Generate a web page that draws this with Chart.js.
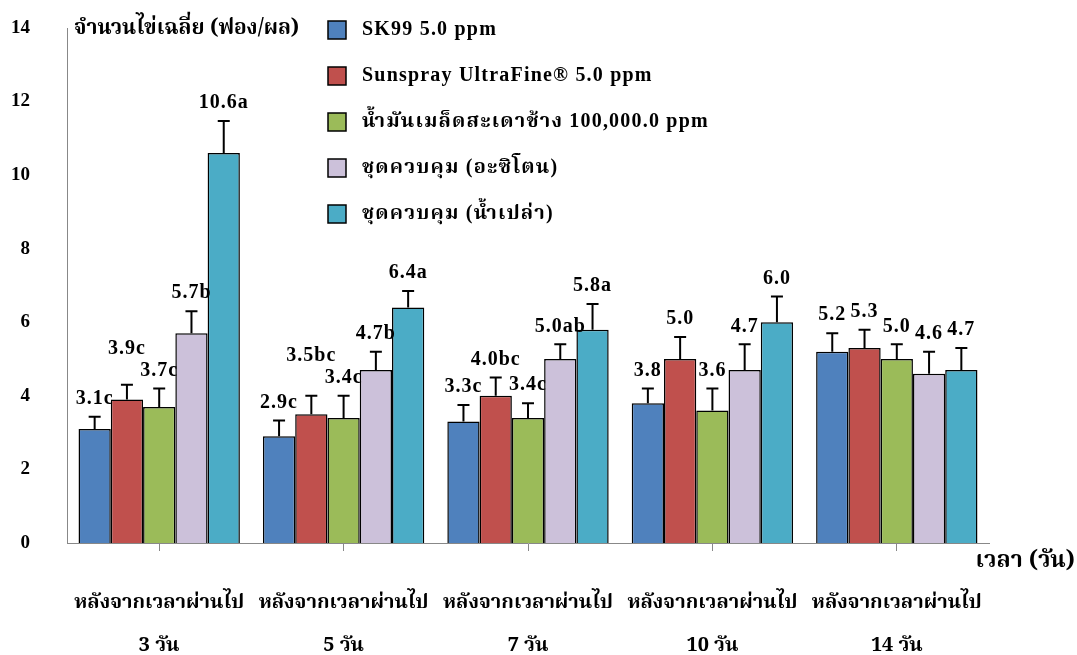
<!DOCTYPE html>
<html>
<head>
<meta charset="utf-8">
<script src="https://cdn.jsdelivr.net/npm/chart.js@4"></script>
<style>
  html, body { margin: 0; padding: 0; background: #fff; }
  #wrap { width: 1077px; height: 655px; }
</style>
</head>
<body>
<div id="wrap"><canvas id="eggChart" width="1077" height="655"></canvas></div>
<script>
const days = [
  ['หลังจากเวลาผ่านไป', '3 วัน'],
  ['หลังจากเวลาผ่านไป', '5 วัน'],
  ['หลังจากเวลาผ่านไป', '7 วัน'],
  ['หลังจากเวลาผ่านไป', '10 วัน'],
  ['หลังจากเวลาผ่านไป', '14 วัน']
];
const seriesNames = [
  'SK99 5.0 ppm',
  'Sunspray UltraFine® 5.0 ppm',
  'น้ำมันเมล็ดสะเดาช้าง 100,000.0 ppm',
  'ชุดควบคุม (อะซิโตน)',
  'ชุดควบคุม (น้ำเปล่า)'
];
const sk99      = [3.1, 2.9, 3.3, 3.8, 5.2];
const sunspray  = [3.9, 3.5, 4.0, 5.0, 5.3];
const neemOil   = [3.7, 3.4, 3.4, 3.6, 5.0];
const acetone   = [5.7, 4.7, 5.0, 4.7, 4.6];
const water     = [10.6, 6.4, 5.8, 6.0, 4.7];

// standard error (upper bar only)
const sk99Err     = [0.33, 0.43, 0.45, 0.4, 0.5];
const sunsprayErr = [0.4, 0.5, 0.5, 0.6, 0.5];
const neemOilErr  = [0.5, 0.6, 0.4, 0.6, 0.4];
const acetoneErr  = [0.6, 0.5, 0.4, 0.7, 0.6];
const waterErr    = [0.87, 0.45, 0.7, 0.7, 0.6];

// significance letters from the DMRT
const sk99Sig     = ['c', 'c', 'c', '', ''];
const sunspraySig = ['c', 'bc', 'bc', '', ''];
const neemOilSig  = ['c', 'c', 'c', '', ''];
const acetoneSig  = ['b', 'b', 'ab', '', ''];
const waterSig    = ['a', 'a', 'a', '', ''];

const yTicks = [0, 2, 4, 6, 8, 10, 12, 14];

const serif = '"Liberation Serif", "Times New Roman", "Noto Serif Thai", "Noto Sans Thai", "Loma", "Garuda", serif';
const thai = '"Noto Serif Thai", "Noto Sans Thai", "Tlwg Typo", "Loma", "Garuda", "Liberation Serif", serif';

const colors = ['#4F81BD', '#C0504D', '#9BBB59', '#CCC1DA', '#4BACC6'];
const values = [sk99, sunspray, neemOil, acetone, water];
const errs = [sk99Err, sunsprayErr, neemOilErr, acetoneErr, waterErr];
const sigs = [sk99Sig, sunspraySig, neemOilSig, acetoneSig, waterSig];

const datasets = values.map((v, i) => ({
  label: seriesNames[i],
  data: v,
  err: errs[i],
  sig: sigs[i],
  backgroundColor: colors[i],
  borderColor: '#000',
  borderWidth: 1.5,
  categoryPercentage: 0.875,
  barPercentage: 1.0
}));

// error bars + value labels on top of each bar
const barExtras = {
  id: 'barExtras',
  afterDatasetsDraw(chart) {
    const ctx = chart.ctx;
    const y = chart.scales.y;
    const nSets = chart.data.datasets.length;
    ctx.save();
    ctx.font = 'bold 20px ' + serif;
    ctx.letterSpacing = '1px';

    chart.data.labels.forEach((_, i) => {
      // collect label boxes for this group first
      const boxes = [];
      for (let di = 0; di < nSets; di++) {
        const ds = chart.data.datasets[di];
        const bar = chart.getDatasetMeta(di).data[i];
        const top = y.getPixelForValue(ds.data[i] + ds.err[i]);

        ctx.strokeStyle = '#000';
        ctx.lineWidth = 2;
        ctx.beginPath();
        ctx.moveTo(bar.x, bar.y);
        ctx.lineTo(bar.x, top);
        ctx.moveTo(bar.x - 6, top);
        ctx.lineTo(bar.x + 6, top);
        ctx.stroke();

        const text = ds.data[i].toFixed(1) + ds.sig[i];
        const w = ctx.measureText(text).width;
        boxes.push({ text, x: bar.x, w, bottom: top - 8 });
      }

      // neighbours that would collide: push the higher one further up
      for (let k = 1; k < boxes.length; k++) {
        const a = boxes[k - 1], b = boxes[k];
        const hOverlap = (a.x + a.w / 2) > (b.x - b.w / 2) - 2;
        const vOverlap = Math.abs(a.bottom - b.bottom) < 20;
        if (hOverlap && vOverlap) {
          if (a.bottom <= b.bottom) a.bottom = b.bottom - 22;
          else b.bottom = a.bottom - 22;
        }
      }

      ctx.fillStyle = '#000';
      ctx.textAlign = 'center';
      ctx.textBaseline = 'bottom';
      boxes.forEach(bx => ctx.fillText(bx.text, bx.x, bx.bottom));
    });
    ctx.restore();
  }
};

// legend, axis titles
const decorations = {
  id: 'decorations',
  afterDraw(chart) {
    const ctx = chart.ctx;
    ctx.save();
    ctx.fillStyle = '#000';
    ctx.textBaseline = 'middle';

    ctx.font = 'bold 21px ' + thai;
    ctx.textAlign = 'left';
    ctx.fillText('จำนวนไข่เฉลี่ย (ฟอง/ผล)', 74, 31);
    ctx.font = 'bold 23px ' + thai;
    ctx.textAlign = 'right';
    ctx.fillText('เวลา (วัน)', 1075, 563);

    ctx.textAlign = 'left';
    chart.data.datasets.forEach((ds, i) => {
      const yy = 30 + i * 46;
      ctx.fillStyle = ds.backgroundColor;
      ctx.fillRect(328, yy - 9, 18, 18);
      ctx.strokeStyle = '#000';
      ctx.lineWidth = 1.5;
      ctx.strokeRect(328, yy - 9, 18, 18);
      ctx.fillStyle = '#000';
      ctx.font = 'bold 20px ' + serif;
      ctx.letterSpacing = '1.2px';
      ctx.fillText(ds.label, 362, yy);
    });
    ctx.restore();
  }
};

new Chart(document.getElementById('eggChart'), {
  type: 'bar',
  data: { labels: days, datasets: datasets },
  plugins: [barExtras, decorations],
  options: {
    responsive: false,
    animation: false,
    layout: { padding: { top: 28, right: 88, left: 0, bottom: 0 } },
    plugins: {
      legend: { display: false },
      tooltip: { enabled: false }
    },
    scales: {
      x: {
        afterFit(scale) { scale.height = 112; },
        grid: {
          offset: false,
          drawOnChartArea: false,
          drawTicks: true,
          tickLength: 8,
          color: '#888'
        },
        border: { display: true, color: '#888', width: 1 },
        ticks: {
          color: '#000',
          padding: 32,
          font: { family: thai, size: 20, weight: 'bold', lineHeight: 2.15 }
        }
      },
      y: {
        min: 0,
        max: 14,
        afterFit(scale) {
          scale.width = 67;
          // the wide label gap shouldn't push the plot down
          scale.paddingTop = 0;
          scale.paddingBottom = 0;
        },
        afterBuildTicks(scale) { scale.ticks = yTicks.map(v => ({ value: v })); },
        grid: { display: false, drawTicks: false },
        border: { display: true, color: '#888', width: 1 },
        ticks: {
          color: '#000',
          padding: 37,
          font: { family: serif, size: 19, weight: 'bold' }
        }
      }
    }
  }
});
</script>
</body>
</html>
